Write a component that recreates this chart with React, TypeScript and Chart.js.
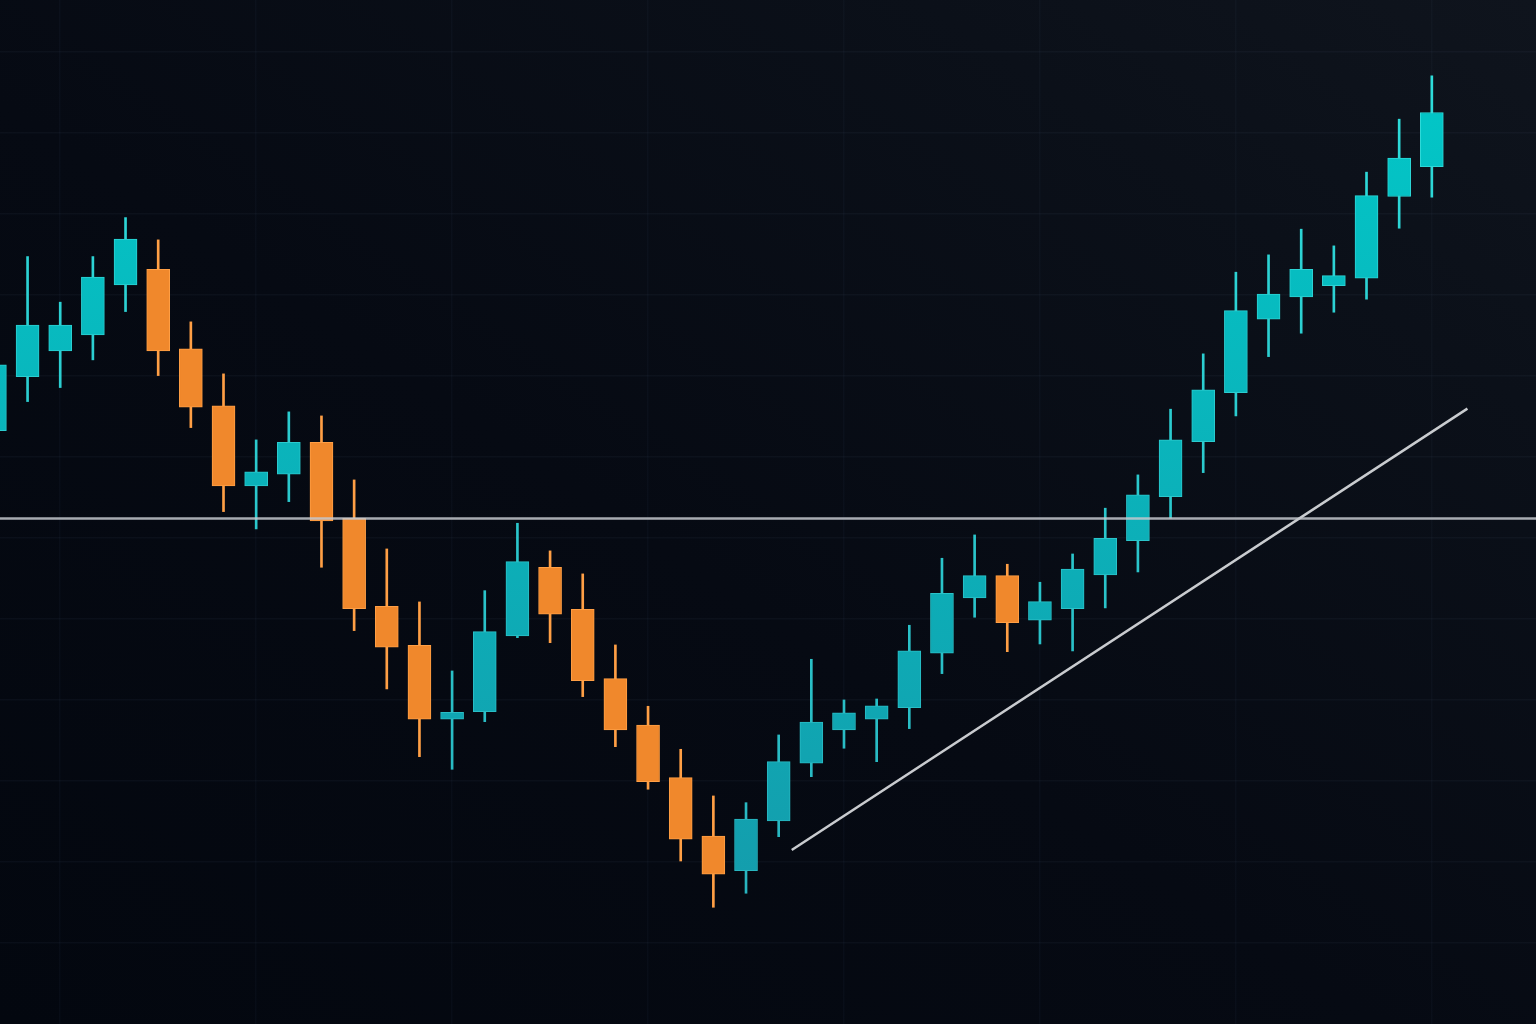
import { useEffect, useRef } from "react";
import { Chart, registerables } from "chart.js";

Chart.register(...registerables);

// ---- data ----
const candleIndex = [
  0, 1, 2, 3, 4, 5, 6, 7, 8, 9, 10, 11, 12, 13, 14, 15, 16, 17, 18, 19, 20, 21, 22,
  23, 24, 25, 26, 27, 28, 29, 30, 31, 32, 33, 34, 35, 36, 37, 38, 39, 40, 41, 42, 43, 44,
];
const opens = [
  73.25, 79.91, 83.09, 85.06, 91.23, 93.17, 83.33, 76.3, 66.42, 67.86, 71.81, 62.43, 51.57,
  46.75, 37.62, 38.56, 47.9, 56.38, 51.2, 42.64, 36.89, 30.41, 23.21, 18.93, 25.06, 32.19,
  36.3, 37.62, 39.05, 45.77, 52.59, 55.35, 49.84, 51.27, 55.43, 59.67, 65.1, 71.89, 77.94,
  87.0, 89.75, 91.15, 92.06, 102.14, 105.84,
];
const highs = [
  83.83, 94.73, 89.1, 94.73, 99.54, 96.79, 86.67, 80.25, 72.1, 75.56, 75.06, 67.16, 58.64,
  52.1, 43.58, 53.49, 61.81, 58.4, 55.56, 46.79, 39.22, 33.91, 28.15, 27.32, 35.68, 45.02,
  40.0, 40.12, 49.22, 57.49, 60.37, 56.75, 54.53, 58.02, 63.67, 67.78, 75.89, 82.72, 92.8,
  94.94, 98.11, 96.05, 105.15, 111.69, 117.04,
];
const lows = [
  70.86, 76.83, 78.56, 81.98, 87.94, 80.04, 73.62, 63.25, 61.11, 64.48, 56.38, 48.56, 41.36,
  33.0, 31.44, 37.32, 47.69, 47.07, 40.41, 34.23, 28.98, 20.12, 14.41, 16.14, 23.12, 30.53,
  34.04, 32.38, 36.46, 43.25, 50.21, 45.96, 46.91, 46.05, 51.36, 55.8, 62.43, 68.06, 75.06,
  82.38, 85.27, 87.86, 89.47, 98.23, 102.06,
];
const closes = [
  81.36, 86.26, 86.26, 92.19, 96.88, 83.09, 76.14, 66.42, 68.15, 71.81, 62.1, 51.27, 46.51,
  37.62, 38.48, 48.43, 57.07, 50.58, 42.38, 36.3, 29.91, 22.8, 18.48, 25.31, 32.38, 37.28,
  38.4, 39.26, 46.05, 53.17, 55.35, 49.54, 52.14, 56.14, 59.96, 65.31, 72.1, 78.27, 88.06,
  90.09, 93.17, 92.38, 102.26, 106.88, 112.51,
];

// horizontal level and rising trendline
const supportLevel = 62.4;
const trendX = [24.4, 45.09];
const trendY = [21.48, 75.96];

// axis ranges and grid positions
const X_MIN = 0.156;
const X_MAX = 47.19;
const Y_MIN = 0;
const Y_MAX = 126.4;
const gridXTicks = [2, 8, 14, 20, 26, 32, 38, 44];
const gridYTicks = [10, 20, 30, 40, 50, 60, 70, 80, 90, 100, 110, 120];

const UP_TOP = "#00cbca";
const UP_BOTTOM = "#1796a8";
const UP_BORDER_TOP = "#2ee0dd";
const UP_BORDER_BOTTOM = "#27aebb";
const DOWN_FILL = "#f0882c";
const DOWN_BORDER = "#ff9f45";

export default function App() {
  const canvasRef = useRef<HTMLCanvasElement | null>(null);

  useEffect(() => {
    const canvas = canvasRef.current;
    if (!canvas) return;

    const gradCache: Record<string, CanvasGradient> = {};
    const vGrad = (chart: any, key: string, top: string, bottom: string) => {
      const area = chart.chartArea;
      if (!area) return top;
      const k = key + area.top + "_" + area.bottom;
      if (!gradCache[k]) {
        const g = chart.ctx.createLinearGradient(0, area.top, 0, area.bottom);
        g.addColorStop(0, top);
        g.addColorStop(1, bottom);
        gradCache[k] = g;
      }
      return gradCache[k];
    };
    const isUp = (i: number) => closes[i] >= opens[i];

    const bodies = candleIndex.map((x, i) => ({ x, y: [opens[i], closes[i]] }));
    const wicks = candleIndex.map((x, i) => ({ x, y: [lows[i], highs[i]] }));

    const chart = new Chart(canvas, {
      type: "bar",
      data: {
        datasets: [
          {
            type: "line",
            label: "level",
            data: [
              { x: X_MIN - 1, y: supportLevel },
              { x: X_MAX + 1, y: supportLevel },
            ],
            borderColor: "rgba(196,200,206,0.85)",
            borderWidth: 2.5,
            pointRadius: 0,
            order: -2,
          } as any,
          {
            type: "line",
            label: "trend",
            data: [
              { x: trendX[0], y: trendY[0] },
              { x: trendX[1], y: trendY[1] },
            ],
            borderColor: "rgba(218,220,224,0.92)",
            borderWidth: 2.5,
            pointRadius: 0,
            order: -1,
          } as any,
          {
            label: "body",
            data: bodies as any,
            grouped: false,
            barThickness: 23,
            borderWidth: 1,
            borderSkipped: false,
            backgroundColor: (ctx: any) =>
              isUp(ctx.dataIndex) ? vGrad(ctx.chart, "uf", UP_TOP, UP_BOTTOM) : DOWN_FILL,
            borderColor: (ctx: any) =>
              isUp(ctx.dataIndex)
                ? vGrad(ctx.chart, "ub", UP_BORDER_TOP, UP_BORDER_BOTTOM)
                : DOWN_BORDER,
            order: 0,
          } as any,
          {
            label: "wick",
            data: wicks as any,
            grouped: false,
            barThickness: 2,
            borderWidth: 0,
            backgroundColor: (ctx: any) =>
              isUp(ctx.dataIndex) ? vGrad(ctx.chart, "uw", UP_BORDER_TOP, UP_BORDER_BOTTOM) : DOWN_BORDER,
            order: 1,
          } as any,
        ],
      },
      options: {
        animation: false,
        responsive: true,
        maintainAspectRatio: false,
        layout: { padding: 0 },
        events: [],
        plugins: {
          legend: { display: false },
          tooltip: { enabled: false },
          title: { display: false },
        },
        scales: {
          x: {
            type: "linear",
            min: X_MIN,
            max: X_MAX,
            offset: false,
            afterBuildTicks: (scale: any) => {
              scale.ticks = gridXTicks.map((v) => ({ value: v }));
            },
            ticks: { display: false },
            border: { display: false },
            grid: {
              offset: false,
              drawTicks: false,
              color: "rgba(120,140,175,0.045)",
              lineWidth: 1.5,
            },
          },
          y: {
            type: "linear",
            min: Y_MIN,
            max: Y_MAX,
            afterBuildTicks: (scale: any) => {
              scale.ticks = gridYTicks.map((v) => ({ value: v }));
            },
            ticks: { display: false },
            border: { display: false },
            grid: {
              drawTicks: false,
              color: "rgba(120,140,175,0.06)",
              lineWidth: 1.5,
            },
          },
        },
      } as any,
    });

    return () => {
      chart.destroy();
    };
  }, []);

  return (
    <div
      style={{
        position: "fixed",
        left: 0,
        top: 0,
        width: 1536,
        height: 1024,
        background: "linear-gradient(to top right, #03070f 0%, #060a13 45%, #0b1019 80%, #0f141d 100%)",
      }}
    >
      <canvas ref={canvasRef} />
    </div>
  );
}
